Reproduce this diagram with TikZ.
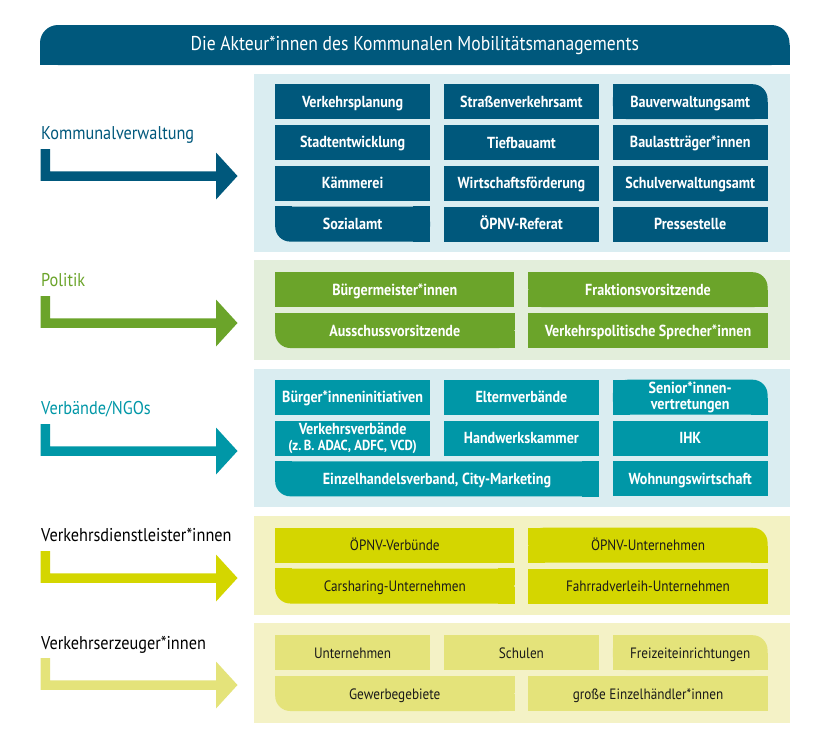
\documentclass[tikz,border=0pt]{standalone}
\usepackage{fontspec}
\setmainfont{PT Sans}[FakeStretch=0.88]
\definecolor{kblue}{HTML}{00587C}
\definecolor{kbluebg}{HTML}{DAEDF1}
\definecolor{pgreen}{HTML}{6BA42A}
\definecolor{pgreenbg}{HTML}{E3EEDB}
\definecolor{vteal}{HTML}{0097A7}
\definecolor{vtealbg}{HTML}{DAEDF1}
\definecolor{dlime}{HTML}{D4D600}
\definecolor{dlimebg}{HTML}{F3F2C3}
\definecolor{epale}{HTML}{E4E37A}
\definecolor{epalebg}{HTML}{F4F2C6}
\definecolor{dtext}{HTML}{1A1A1A}
\newcommand\topstrut{\rule[-3pt]{0pt}{17.2pt}}
\newcommand\botstrut{\rule[-3pt]{0pt}{14.2pt}}
\tikzset{
  panelbg/.style={fill=#1, draw=none},
  cell/.style={fill=#1, draw=none, inner xsep=1pt, inner ysep=0pt, anchor=north west,
    minimum height=35pt, align=center, text=white,
    font=\bfseries\fontsize{16}{16}\selectfont,
    execute at begin node=\topstrut, execute at end node=\botstrut},
  cellpale/.style={cell=#1, text=dtext, font=\fontsize{15}{16}\selectfont},
  sidelabel/.style={anchor=base west, inner sep=0pt, font=\fontsize{18.5}{19}\selectfont},
  headerbox/.style={fill=kblue, draw=none, rounded corners=18pt, minimum width=749.5pt,
    minimum height=40pt, inner sep=0pt, text=white, font=\fontsize{20}{22}\selectfont},
}
% style, name, x, y, width, text
\newcommand\cellbox[6]{\node[#1, minimum width=#5] (#2) at (#3,#4) {#6};}
% rounded top-right corner node: patch the other three corners
\newcommand\cellboxTR[7]{%
  \node[#1=#7, minimum width=#5, rounded corners=15pt] (#2) at (#3,#4) {#6};
  \fill[#7] (#2.north west) rectangle ++(17pt,-17pt);
  \fill[#7] (#2.south west) rectangle ++(17pt,17pt);
  \fill[#7] (#2.south east) rectangle ++(-17pt,17pt);}
\newcommand\cellboxBL[7]{%
  \node[#1=#7, minimum width=#5, rounded corners=15pt] (#2) at (#3,#4) {#6};
  \fill[#7] (#2.north west) rectangle ++(17pt,-17pt);
  \fill[#7] (#2.north east) rectangle ++(-17pt,-17pt);
  \fill[#7] (#2.south east) rectangle ++(-17pt,17pt);}
% arrow: center y, colour
\newcommand\sectarrow[2]{%
  \fill[#2] (40.5,{#1-27}) -- (50,{#1-27}) -- (50,{#1-4.75}) -- (216,{#1-4.75})
    -- (216,{#1-23.5}) -- (237.5,#1) -- (216,{#1+23.5}) -- (216,{#1+4.75})
    -- (40.5,{#1+4.75}) -- cycle;}
\begin{document}
\begin{tikzpicture}[x=1pt,y=-1pt]
\useasboundingbox (0,0) rectangle (815,737);
\fill[white] (0,0) rectangle (815,737);

% header
\node[headerbox] (title) at (414.75,45) {Die Akteur*innen des Kommunalen Mobilitätsmanagements};
\fill[kblue] (title.south west) rectangle ++(20pt,20pt);
\fill[kblue] (title.south east) rectangle ++(-20pt,20pt);

% panels
\fill[panelbg=kbluebg] (254,74) rectangle (790,251.5);
\fill[panelbg=pgreenbg] (254,260) rectangle (790,360);
\fill[panelbg=vtealbg] (254,368.5) rectangle (790,506.5);
\fill[panelbg=dlimebg] (254,515.5) rectangle (790,615);
\fill[panelbg=epalebg] (254,623) rectangle (790,723);

% side labels and arrows
\node[sidelabel, text=kblue] (lk) at (41,139) {Kommunalverwaltung};
\sectarrow{176}{kblue}
\node[sidelabel, text=pgreen] (lp) at (41,286) {Politik};
\sectarrow{323}{pgreen}
\node[sidelabel, text=vteal] (lv) at (41,414) {Verbände/NGOs};
\sectarrow{451}{vteal}
\node[sidelabel, text=black] (ld) at (41,541) {Verkehrsdienstleister*innen};
\sectarrow{578}{dlime}
\node[sidelabel, text=black] (le) at (41,649) {Verkehrserzeuger*innen};
\sectarrow{685}{epale}

% Kommunalverwaltung
\cellbox{cell=kblue}{k11}{275}{84}{154.8pt}{Verkehrsplanung}
\cellbox{cell=kblue}{k12}{443.8}{84}{154.8pt}{Straßenverkehrsamt}
\cellboxTR{cell}{k13}{612.6}{84}{154.8pt}{Bauverwaltungsamt}{kblue}
\cellbox{cell=kblue}{k21}{275}{124.8}{154.8pt}{Stadtentwicklung}
\cellbox{cell=kblue}{k22}{443.8}{124.8}{154.8pt}{Tiefbauamt}
\cellbox{cell=kblue}{k23}{612.6}{124.8}{154.8pt}{Baulastträger*innen}
\cellbox{cell=kblue}{k31}{275}{165.6}{154.8pt}{Kämmerei}
\cellbox{cell=kblue}{k32}{443.8}{165.6}{154.8pt}{Wirtschaftsförderung}
\cellbox{cell=kblue}{k33}{612.6}{165.6}{154.8pt}{Schulverwaltungsamt}
\cellboxBL{cell}{k41}{275}{206.4}{154.8pt}{Sozialamt}{kblue}
\cellbox{cell=kblue}{k42}{443.8}{206.4}{154.8pt}{ÖPNV-Referat}
\cellbox{cell=kblue}{k43}{612.6}{206.4}{154.8pt}{Pressestelle}

% Politik
\cellbox{cell=pgreen}{p11}{275}{272}{239.2pt}{Bürgermeister*innen}
\cellboxTR{cell}{p12}{528.2}{272}{239.2pt}{Fraktionsvorsitzende}{pgreen}
\cellboxBL{cell}{p21}{275}{312.8}{239.2pt}{Ausschussvorsitzende}{pgreen}
\cellbox{cell=pgreen}{p22}{528.2}{312.8}{239.2pt}{Verkehrspolitische Sprecher*innen}

% Verbaende
\cellbox{cell=vteal}{v11}{275}{379.5}{154.8pt}{Bürger*inneninitiativen}
\cellbox{cell=vteal}{v12}{443.8}{379.5}{154.8pt}{Elternverbände}
\cellboxTR{cell}{v13}{612.6}{379.5}{154.8pt}{Senior*innen-\\vertretungen}{vteal}
\cellbox{cell=vteal}{v21}{275}{420.3}{154.8pt}{Verkehrsverbände\\{\fontsize{14.5}{16}\selectfont (z.\,B. ADAC, ADFC, VCD)}}
\cellbox{cell=vteal}{v22}{443.8}{420.3}{154.8pt}{Handwerkskammer}
\cellbox{cell=vteal}{v23}{612.6}{420.3}{154.8pt}{IHK}
\cellboxBL{cell}{v31}{275}{461.1}{323.6pt}{Einzelhandelsverband, City-Marketing}{vteal}
\cellbox{cell=vteal}{v33}{612.6}{461.1}{154.8pt}{Wohnungswirtschaft}

% Verkehrsdienstleister
\cellbox{cellpale=dlime}{d11}{275}{527.5}{239.2pt}{ÖPNV-Verbünde}
\cellboxTR{cellpale}{d12}{528.2}{527.5}{239.2pt}{ÖPNV-Unternehmen}{dlime}
\cellboxBL{cellpale}{d21}{275}{568.3}{239.2pt}{Carsharing-Unternehmen}{dlime}
\cellbox{cellpale=dlime}{d22}{528.2}{568.3}{239.2pt}{Fahrradverleih-Unternehmen}

% Verkehrserzeuger
\cellbox{cellpale=epale}{e11}{275}{635}{154.8pt}{Unternehmen}
\cellbox{cellpale=epale}{e12}{443.8}{635}{154.8pt}{Schulen}
\cellboxTR{cellpale}{e13}{612.6}{635}{154.8pt}{Freizeiteinrichtungen}{epale}
\cellboxBL{cellpale}{e21}{275}{675.8}{239.2pt}{Gewerbegebiete}{epale}
\cellbox{cellpale=epale}{e22}{528.2}{675.8}{239.2pt}{große Einzelhändler*innen}
\end{tikzpicture}
\end{document}
